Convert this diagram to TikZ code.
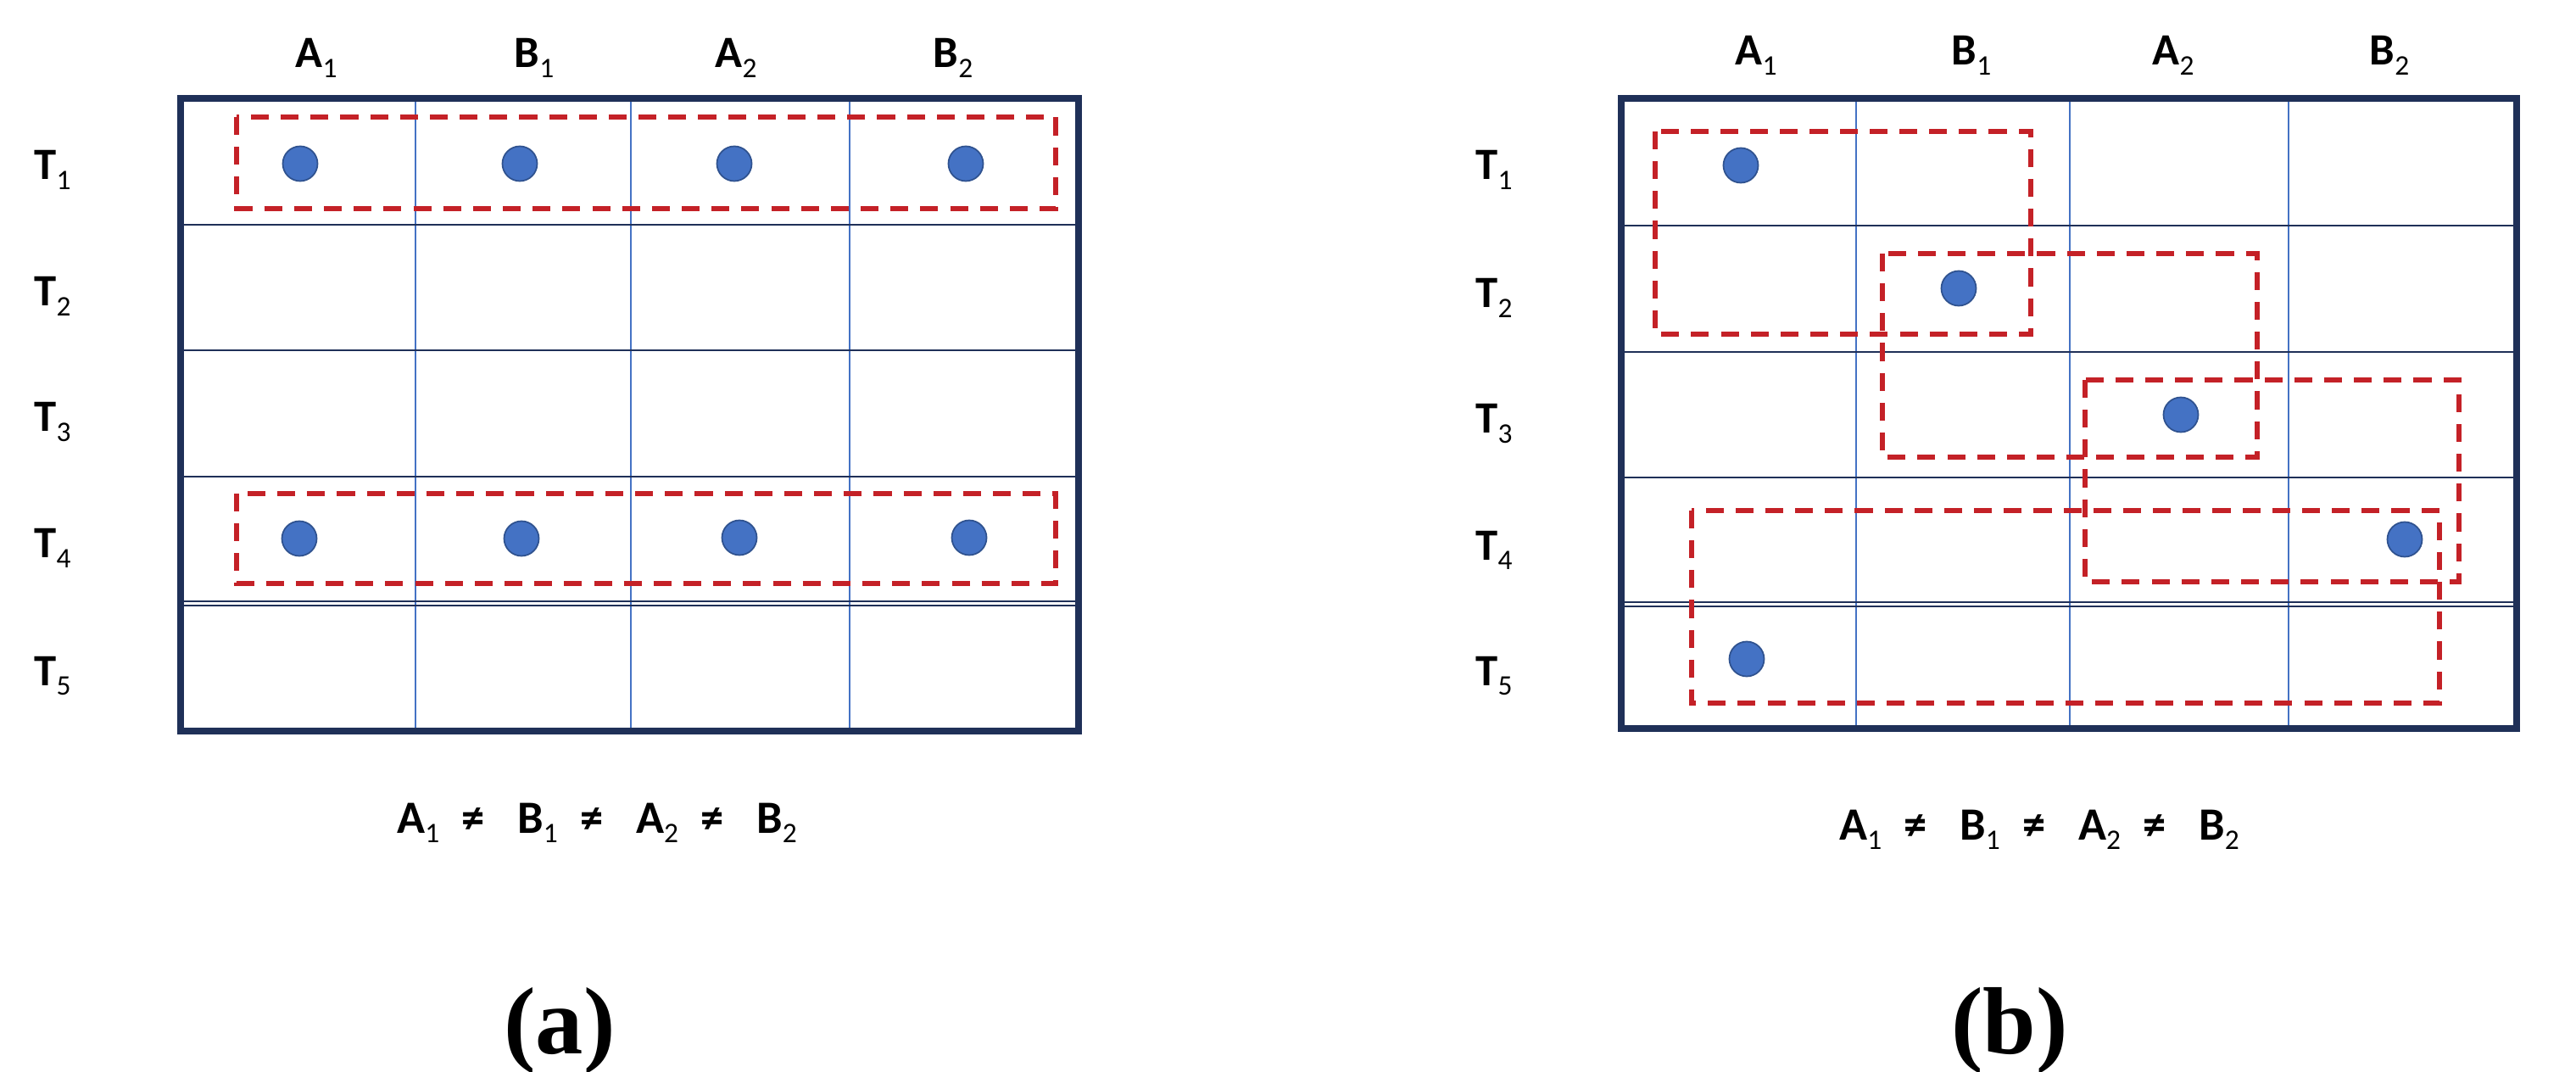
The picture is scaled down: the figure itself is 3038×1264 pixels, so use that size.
\documentclass[tikz,border=0pt]{standalone}
\usepackage{fontspec}
\setmainfont{Carlito}
\newfontfamily\capfont{Liberation Serif}
\definecolor{navy}{HTML}{1F3058}
\definecolor{gridblue}{HTML}{4472C4}
\definecolor{dotfill}{HTML}{4472C4}
\definecolor{dotedge}{HTML}{2F528F}
\definecolor{dashred}{HTML}{C42127}
\newcommand\sbs[1]{\raisebox{-3.2pt}{\fontsize{9.5pt}{9.5pt}\selectfont\mdseries #1}}
\newcommand\lab[2]{\textbf{#1}\sbs{#2}}
\newcommand\neqsign{\hspace{7.5pt}\textbf{≠}\hspace{11pt}}
\begin{document}
\begin{tikzpicture}[x=0.01cm, y=-0.01cm,
  outerframe/.style={draw=navy, line width=2.1pt},
  vline/.style={draw=gridblue, line width=0.6pt},
  hline/.style={draw=navy, line width=0.85pt},
  dline/.style={draw=navy, line width=0.35pt},
  grp/.style={draw=dashred, line width=1.5pt, dash pattern=on 6pt off 4pt},
  dot/.style={circle, fill=dotfill, draw=dotedge, line width=0.5pt, minimum size=0.41cm, inner sep=0pt},
  lbl/.style={anchor=base, inner sep=0pt, font=\fontsize{15pt}{15pt}\selectfont},
  eqn/.style={anchor=base, inner sep=0pt, font=\fontsize{15.5pt}{15.5pt}\selectfont},
  caption/.style={inner sep=0pt, font=\capfont\bfseries\fontsize{32pt}{32pt}\selectfont}]
\useasboundingbox (0,0) rectangle (3038,1264);

% ---------------- panel (a) ----------------
\foreach \x in {490,744,1002} \draw[vline] (\x,116) -- (\x,862);
\foreach \y in {265,413,562} \draw[hline] (213,\y) -- (1272,\y);
\draw[dline] (213,709) -- (1272,709);
\draw[dline] (213,714) -- (1272,714);
\draw[outerframe] (213,116) rectangle (1272,862);

\draw[grp] (279,138) rectangle (1245,246);
\draw[grp] (279,582) rectangle (1245,688);

\node[dot] (a11) at (354,193) {};
\node[dot] (a12) at (613,193) {};
\node[dot] (a13) at (866,193) {};
\node[dot] (a14) at (1139,193) {};
\node[dot] (a41) at (353,635) {};
\node[dot] (a42) at (615,635) {};
\node[dot] (a43) at (872,634) {};
\node[dot] (a44) at (1143,634) {};

\node[lbl] (acA1) at (373,80) {\lab{A}{1}};
\node[lbl] (acB1) at (630,80) {\lab{B}{1}};
\node[lbl] (acA2) at (868,80) {\lab{A}{2}};
\node[lbl] (acB2) at (1124,80) {\lab{B}{2}};

\node[lbl] (arT1) at (62,212) {\lab{T}{1}};
\node[lbl] (arT2) at (62,361) {\lab{T}{2}};
\node[lbl] (arT3) at (62,509) {\lab{T}{3}};
\node[lbl] (arT4) at (62,658) {\lab{T}{4}};
\node[lbl] (arT5) at (62,808) {\lab{T}{5}};

\node[eqn] (aeq) at (704,982) {\lab{A}{1}\neqsign\lab{B}{1}\neqsign\lab{A}{2}\neqsign\lab{B}{2}};
\node[caption] (acap) at (660,1215) {(a)};

% ---------------- panel (b) ----------------
\foreach \x in {2189,2441,2699} \draw[vline] (\x,116) -- (\x,859);
\foreach \y in {266,415,563} \draw[hline] (1912,\y) -- (2968,\y);
\draw[dline] (1912,710) -- (2968,710);
\draw[dline] (1912,715) -- (2968,715);
\draw[outerframe] (1912,116) rectangle (2968,859);

\draw[grp] (1952,155) rectangle (2395,394);
\draw[grp] (2220,299) rectangle (2662,539);
\draw[grp] (2459,448) rectangle (2900,686);
\draw[grp] (1995,602) rectangle (2877,829);

\node[dot] (b1) at (2053,195) {};
\node[dot] (b2) at (2310,340) {};
\node[dot] (b3) at (2572,489) {};
\node[dot] (b4) at (2836,636) {};
\node[dot] (b5) at (2060,777) {};

\node[lbl] (bcA1) at (2071,77) {\lab{A}{1}};
\node[lbl] (bcB1) at (2325,77) {\lab{B}{1}};
\node[lbl] (bcA2) at (2563,77) {\lab{A}{2}};
\node[lbl] (bcB2) at (2818,77) {\lab{B}{2}};

\node[lbl] (brT1) at (1762,212) {\lab{T}{1}};
\node[lbl] (brT2) at (1762,363) {\lab{T}{2}};
\node[lbl] (brT3) at (1762,511) {\lab{T}{3}};
\node[lbl] (brT4) at (1762,660) {\lab{T}{4}};
\node[lbl] (brT5) at (1762,808) {\lab{T}{5}};

\node[eqn] (beq) at (2405,990) {\lab{A}{1}\neqsign\lab{B}{1}\neqsign\lab{A}{2}\neqsign\lab{B}{2}};
\node[caption] (bcap) at (2370,1215) {(b)};
\end{tikzpicture}
\end{document}
